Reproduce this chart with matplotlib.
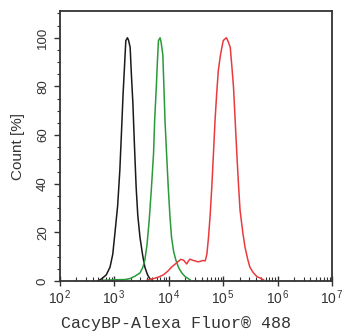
import numpy as np
import matplotlib
matplotlib.use('Agg')
import matplotlib.pyplot as plt
from matplotlib.ticker import LogLocator, MultipleLocator, FixedLocator

# log10(intensity) and count [%]
black_x = [2.70, 2.77, 2.85, 2.92, 2.97, 3.01, 3.06, 3.10, 3.13, 3.16, 3.19, 3.21, 3.24,
           3.26, 3.29, 3.31, 3.34, 3.37, 3.40, 3.43, 3.47, 3.52, 3.56, 3.61, 3.65, 3.70]
black_y = [0.0, 1.0, 2.5, 5.7, 11.0, 19.7, 31.0, 45.5, 61.0, 77.0, 90.0, 98.8, 100.0,
           99.0, 96.0, 86.0, 73.0, 55.0, 38.5, 27.0, 18.0, 10.5, 5.7, 2.5, 1.0, 0.0]
green_x = [2.80, 3.00, 3.20, 3.29, 3.38, 3.47, 3.52, 3.56, 3.60, 3.64, 3.68, 3.72, 3.74,
           3.77, 3.79, 3.81, 3.84, 3.86, 3.89, 3.91, 3.93, 3.96, 3.99, 4.02, 4.05, 4.09,
           4.13, 4.18, 4.24, 4.30, 4.39]
green_y = [0.3, 0.5, 0.6, 1.0, 2.0, 3.3, 5.5, 8.6, 15.0, 25.0, 38.0, 52.5, 66.0,
           79.5, 90.0, 98.8, 100.0, 98.0, 93.0, 80.0, 66.0, 52.0, 38.5, 27.0, 18.0, 12.0,
           8.6, 5.5, 3.3, 1.8, 0.5]
red_x = [3.60, 3.72, 3.81, 3.90, 3.98, 4.05, 4.11, 4.16, 4.22, 4.27, 4.30, 4.33, 4.36,
         4.39, 4.44, 4.48, 4.53, 4.57, 4.62, 4.67, 4.70, 4.73, 4.76, 4.79, 4.82, 4.85,
         4.88, 4.91, 4.95, 5.00, 5.03, 5.06, 5.09, 5.13, 5.16, 5.19, 5.22, 5.25, 5.28,
         5.31, 5.36, 5.40, 5.45, 5.49, 5.55, 5.62, 5.68, 5.74]
red_y = [0.3, 1.0, 1.6, 2.5, 4.0, 5.7, 6.8, 7.8, 8.9, 8.6, 7.8, 7.0, 8.2,
         9.0, 8.5, 8.3, 7.9, 8.0, 8.4, 8.3, 11.0, 18.0, 27.0, 38.5, 52.0, 66.0,
         77.0, 86.5, 93.0, 98.8, 99.5, 100.0, 98.5, 96.0, 88.0, 79.5, 66.0, 52.5, 40.0,
         29.0, 20.0, 14.0, 9.0, 5.7, 3.5, 1.8, 1.2, 0.5]
decades = [2, 3, 4, 5, 6, 7]

plt.rcParams['font.family'] = ['Liberation Sans', 'DejaVu Sans']
plt.rcParams['mathtext.fontset'] = 'custom'
plt.rcParams['mathtext.rm'] = 'Liberation Sans'
plt.rcParams['mathtext.it'] = 'Liberation Sans'

fig = plt.figure(figsize=(3.42, 3.34), dpi=100)
ax = fig.add_axes([0.1754, 0.1587, 0.7954, 0.8083])

ax.plot(10 ** np.array(black_x), black_y, color='#1a1a1a', lw=1.1)
ax.plot(10 ** np.array(green_x), green_y, color='#2a9a3a', lw=1.1)
ax.plot(10 ** np.array(red_x), red_y, color='#ea3a3e', lw=1.1)

ax.set_xscale('log')
ax.set_xlim(1e2, 1e7)
ax.set_ylim(0, 111)
ax.xaxis.set_major_locator(FixedLocator([10.0 ** d for d in decades]))
ax.xaxis.set_minor_locator(LogLocator(base=10, subs=np.arange(2, 10), numticks=20))
ax.set_xticklabels(['$10^{\\,%d}$' % d for d in decades])
ax.yaxis.set_major_locator(MultipleLocator(20))
ax.yaxis.set_minor_locator(MultipleLocator(5))

for s in ax.spines.values():
    s.set_linewidth(1.3)
    s.set_color('#333333')

ax.tick_params(axis='x', which='major', direction='inout', length=7, width=1.0,
               labelsize=10, pad=2, colors='#333333')
ax.tick_params(axis='x', which='minor', direction='in', length=3, width=0.8,
               colors='#333333')
ax.tick_params(axis='y', which='major', direction='out', length=4, width=1.0,
               labelsize=9.5, pad=4, colors='#333333')
ax.tick_params(axis='y', which='minor', direction='out', length=2.5, width=0.8,
               colors='#333333')
for lab in ax.get_yticklabels():
    lab.set_rotation(90)
    lab.set_va('center')

ax.set_ylabel('Count [%]', fontsize=11, color='#333333')
ax.yaxis.set_label_coords(-0.13, 0.5)
ax.set_xlabel('CacyBP-Alexa Fluor® 488', fontsize=12, family='Liberation Mono',
              color='#333333')
ax.xaxis.set_label_coords(0.426, -0.13)

fig.savefig('out.png', dpi=100)
